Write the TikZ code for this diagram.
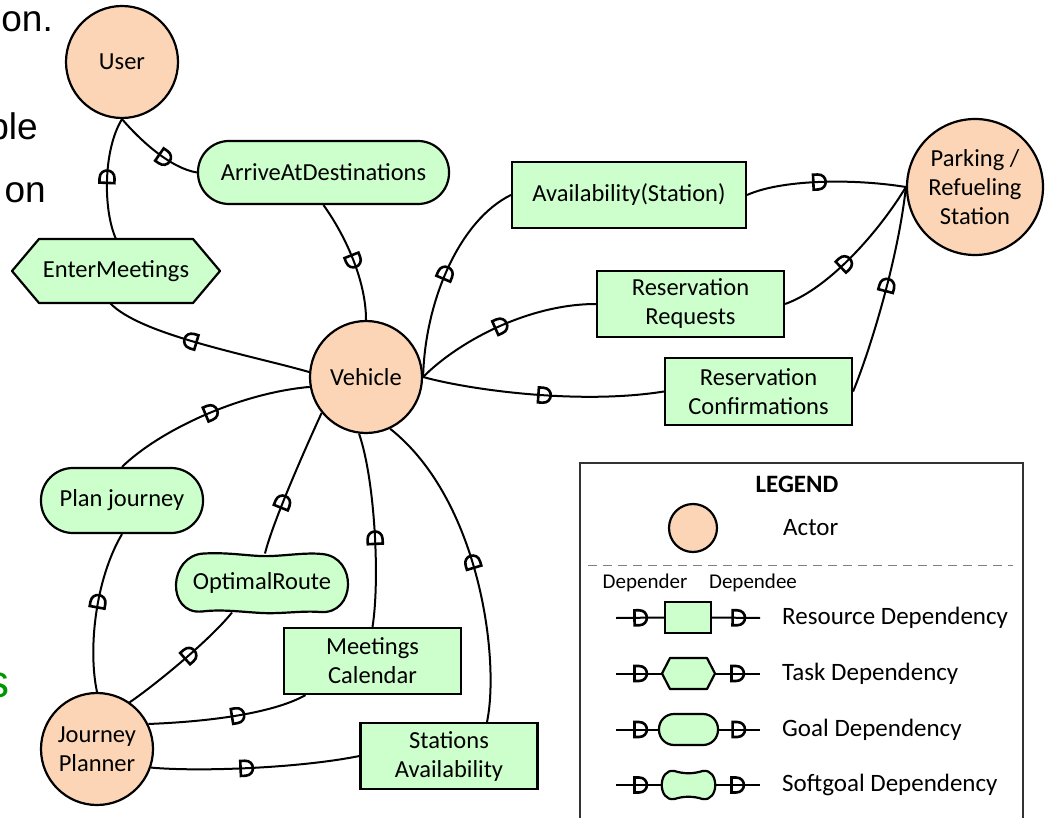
\documentclass[tikz,border=0pt]{standalone}
\usepackage{fontspec}
\setmainfont{Carlito}
\newfontfamily\slidefont{Liberation Sans}
\usetikzlibrary{decorations.markings,backgrounds}

\definecolor{actorfill}{RGB}{251,213,181}
\definecolor{dumfill}{RGB}{204,255,204}
\definecolor{slidegreen}{RGB}{0,150,0}
\definecolor{legendgray}{RGB}{128,128,128}

\newcommand{\nodefont}{\fontsize{24.5}{29}\selectfont}
\newcommand{\legfont}{\fontsize{25}{30}\selectfont}
\newcommand{\legsmall}{\fontsize{21}{25}\selectfont}
\newcommand{\slidetext}{\slidefont\fontsize{37}{44}\selectfont}

\tikzset{
  link/.style={line width=2pt},
  dglyph/.style={line width=2.6pt, line join=miter},
  % the "D" of a dependency, its round side pointing towards the dependee
  dmark/.style={postaction={decorate, decoration={markings,
      mark=at position #1 with {\draw[dglyph] (-4.5,-7.5) -- (-4.5,7.5) -- (0,7.5)
        .. controls (10.5,7.5) and (10.5,-7.5) .. (0,-7.5) -- cycle;}}}},
  actor/.style={circle, draw, fill=actorfill, line width=2.2pt, minimum size=112pt,
    inner sep=0pt, align=center, font=\nodefont},
  resource/.style={rectangle, draw, fill=dumfill, line width=2.2pt, inner sep=0pt,
    align=center, font=\nodefont},
  goal/.style={rectangle, rounded corners=#1, draw, fill=dumfill, line width=2.2pt,
    inner sep=0pt, align=center, font=\nodefont},
  taskbody/.style={rectangle, inner sep=0pt, outer sep=0pt, align=center, font=\nodefont},
  softbody/.style={rectangle, inner sep=0pt, outer sep=0pt, align=center, font=\nodefont},
  shapeline/.style={draw, fill=dumfill, line width=2.2pt, line join=round},
  legtext/.style={anchor=west, inner sep=0pt, font=\legfont},
}

\begin{document}
\begin{tikzpicture}[x=1pt,y=-1pt]
\useasboundingbox (0,0) rectangle (1046,818);
\clip (0,0) rectangle (1046,818);

% slide text running in from the left
\node[anchor=base east, inner sep=0pt, font=\slidetext] (txta) at (53,32) {on.};
\node[anchor=base east, inner sep=0pt, font=\slidetext] (txtb) at (38,140) {ble};
\node[anchor=base east, inner sep=0pt, font=\slidetext] (txtc) at (46,203) {on};
\node[anchor=base east, inner sep=0pt, font=\slidefont\fontsize{46}{54}\selectfont,
  text=slidegreen] (txtd) at (9.5,697) {s};

% actors
\node[actor] (user) at (122,62) {User};
\node[actor] (veh) at (366,377) {Vehicle};
\node[actor, minimum size=136pt] (park) at (975,187) {Parking /\\Refueling\\Station};
\node[actor] (jp) at (97,749) {Journey\\Planner};

% dependums
\node[goal=31pt, minimum width=251pt, minimum height=63pt] (arrive) at (323.5,172.5) {ArriveAtDestinations};
\node[taskbody, minimum width=154pt, minimum height=64pt] (em) at (116,271) {EnterMeetings};
\node[resource, minimum width=234pt, minimum height=66pt] (avail) at (629,195) {Availability(Station)};
\node[resource, minimum width=187pt, minimum height=66pt] (resreq) at (690.5,304) {Reservation\\Requests};
\node[resource, minimum width=187pt, minimum height=67pt] (resconf) at (758.5,391.5) {Reservation\\Confirmations};
\node[goal=32pt, minimum width=162pt, minimum height=65pt] (planj) at (122,500.5) {Plan journey};
\node[softbody, minimum width=174pt, minimum height=59pt] (optr) at (262,583) {OptimalRoute};
\node[resource, minimum width=177pt, minimum height=66pt] (mc) at (372.5,661) {Meetings\\Calendar};
\node[resource, minimum width=177pt, minimum height=66pt] (sa) at (449,756) {Stations\\Availability};

% task (hexagon) and softgoal outlines behind their labels
\begin{scope}[on background layer]
  \draw[shapeline] (em.north west) -- (em.north east) -- ([xshift=27pt]em.east)
    -- (em.south east) -- (em.south west) -- ([xshift=-27pt]em.west) -- cycle;
  \begin{scope}[shift={(optr.center)}]
    \draw[shapeline] (-58,-29.5) .. controls (-30,-31) and (-10,-26) .. (10,-27)
      .. controls (30,-28) and (45,-30.5) .. (60,-29)
      .. controls (96,-26) and (94,32) .. (58,29)
      .. controls (40,27.5) and (20,31) .. (0,30)
      .. controls (-20,29) and (-40,26) .. (-60,28.5)
      .. controls (-96,32) and (-94,-28) .. (-58,-29.5) -- cycle;
  \end{scope}
\end{scope}

% dependencies: User
\draw[link, dmark=0.6] (user.south) .. controls (140,140) and (170,168) .. (arrive.west);
\draw[link, dmark=0.5] (arrive.south) .. controls (345,235) and (366,280) .. (veh.north);
\draw[link, dmark=0.5] (em.north) .. controls (103,210) and (103,150) .. (user.south);
\draw[link, dmark=0.57] (veh.175) .. controls (250,355) and (140,335) .. ([xshift=-6pt]em.south);

% dependencies: Parking / Refueling Station
\draw[link, dmark=0.5] (veh.east) .. controls (425,300) and (460,220) .. (avail.west);
\draw[link, dmark=0.45] (avail.east) .. controls (780,180) and (850,178) .. (park.west);
\draw[link, dmark=0.48] (veh.east) .. controls (460,340) and (530,304) .. (resreq.west);
\draw[link, dmark=0.42] (resreq.east) .. controls (830,288) and (880,230) .. (park.west);
\draw[link, dmark=0.5] (veh.east) .. controls (470,390) and (580,405) .. (resconf.west);
\draw[link, dmark=0.52] (resconf.east) .. controls (870,350) and (898,260) .. (park.west);

% dependencies: Journey Planner
\draw[link, dmark=0.55] (jp.north) .. controls (88,650) and (95,580) .. (planj.south);
\draw[link, dmark=0.5] (planj.north) .. controls (160,430) and (240,393) .. (veh.190);
\draw[link, dmark=0.55] (jp.55) .. controls (155,685) and (210,640) .. ([xshift=-30pt]optr.south);
\draw[link, dmark=0.35] ([xshift=3pt]optr.north) .. controls (272,525) and (300,460) .. (veh.-141);
\draw[link, dmark=0.55] (jp.26) .. controls (200,722) and (270,715) .. ([xshift=-67pt]mc.south);
\draw[link, dmark=0.45] (mc.north) .. controls (380,580) and (375,480) .. (veh.-97);
\draw[link, dmark=0.45] (jp.-19) .. controls (200,772) and (300,768) .. (sa.west);
\draw[link, dmark=0.5] ([xshift=38pt]sa.north) .. controls (500,660) and (480,500) .. (veh.-65);

% legend
\draw[line width=1.3pt, draw=black!80] (580,463) rectangle (1023,830);
\node[font=\bfseries\legfont] (legtitle) at (797,484) {LEGEND};
\node[actor, minimum size=48pt] (lactor) at (693,528) {};
\node[legtext] (lactortxt) at (783,528) {Actor};
\coordinate (sepa) at (588,565);
\coordinate (sepb) at (1013,565);
\draw[legendgray, line width=1pt, dash pattern=on 9pt off 6pt] (sepa) -- (sepb);
\node[font=\legsmall] (ldepender) at (645,583) {Depender};
\node[font=\legsmall] (ldependee) at (753,583) {Dependee};

% resource row
\node[resource, minimum width=46pt, minimum height=31pt] (lres) at (688,617.5) {};
\coordinate (lresa) at (616,618);
\coordinate (lresb) at (760,618);
\draw[link, dmark=23pt] (lresa) -- (lres.west);
\draw[link, dmark=25pt] (lres.east) -- (lresb);
\node[legtext] (lrestxt) at (782,618) {Resource Dependency};

% task row
\node[taskbody, minimum width=37pt, minimum height=31pt] (ltask) at (688.5,673.5) {};
\begin{scope}[on background layer]
  \draw[shapeline] (ltask.north west) -- (ltask.north east) -- ([xshift=8pt]ltask.east)
    -- (ltask.south east) -- (ltask.south west) -- ([xshift=-8pt]ltask.west) -- cycle;
\end{scope}
\coordinate (ltaska) at (616,673.5);
\coordinate (ltaskb) at (760,673.5);
\draw[link, dmark=23pt] (ltaska) -- ([xshift=-8pt]ltask.west);
\draw[link, dmark=21pt] ([xshift=8pt]ltask.east) -- (ltaskb);
\node[legtext] (ltasktxt) at (782,673.5) {Task Dependency};

% goal row
\node[goal=15pt, minimum width=59pt, minimum height=31pt] (lgoal) at (688.5,729.5) {};
\coordinate (lgoala) at (616,729.5);
\coordinate (lgoalb) at (760,729.5);
\draw[link, dmark=23pt] (lgoala) -- (lgoal.west);
\draw[link, dmark=18pt] (lgoal.east) -- (lgoalb);
\node[legtext] (lgoaltxt) at (782,729.5) {Goal Dependency};

% softgoal row
\node[softbody, minimum width=53pt, minimum height=28pt] (lsoft) at (688.5,785) {};
\begin{scope}[on background layer]
  \begin{scope}[shift={(lsoft.center)}]
    \draw[shapeline] (-14,-14) .. controls (-5,-11) and (5,-11) .. (14,-14)
      .. controls (31,-17) and (31,17) .. (14,14)
      .. controls (5,11) and (-5,11) .. (-14,14)
      .. controls (-31,17) and (-31,-17) .. (-14,-14) -- cycle;
  \end{scope}
\end{scope}
\coordinate (lsofta) at (616,785);
\coordinate (lsoftb) at (760,785);
\draw[link, dmark=23pt] (lsofta) -- (lsoft.west);
\draw[link, dmark=21pt] (lsoft.east) -- (lsoftb);
\node[legtext] (lsofttxt) at (782,785) {Softgoal Dependency};
\end{tikzpicture}
\end{document}
